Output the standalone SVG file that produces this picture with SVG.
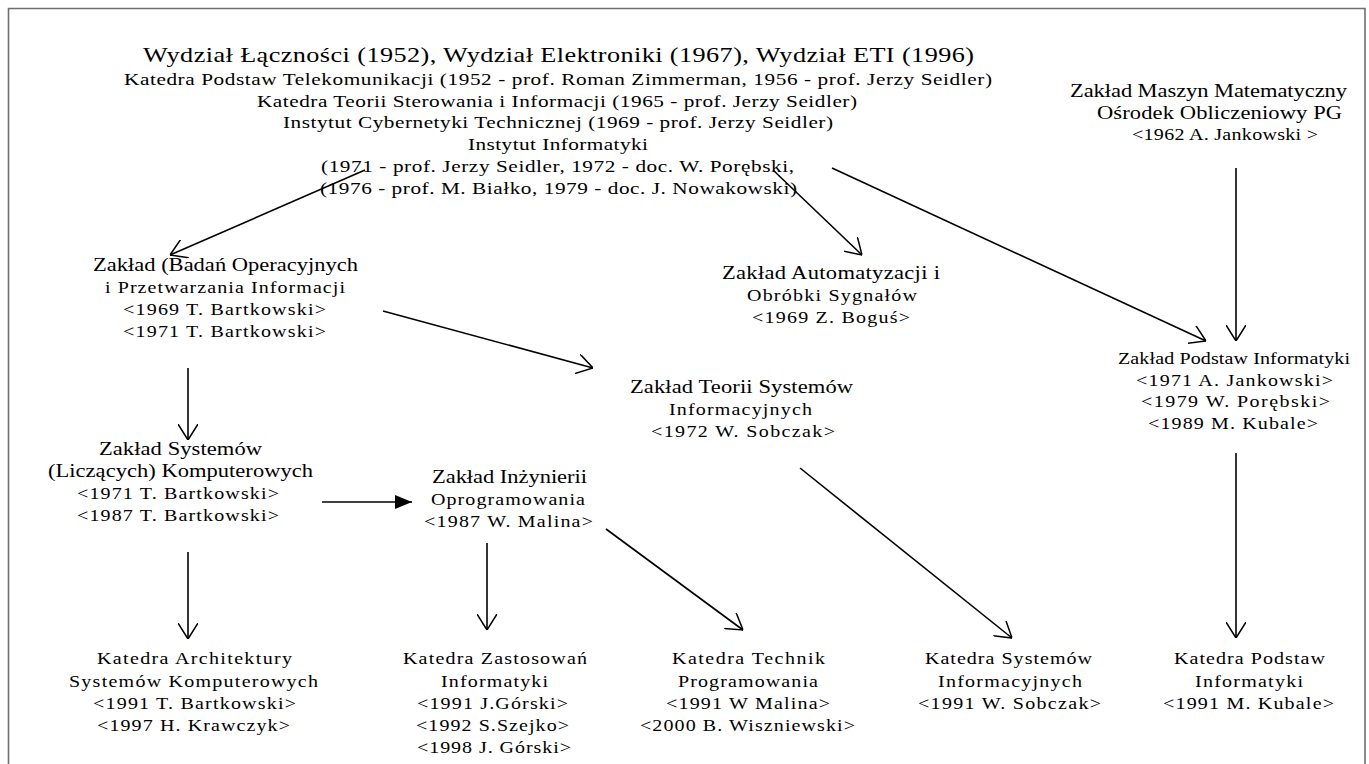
<svg xmlns="http://www.w3.org/2000/svg" width="1369" height="764" viewBox="0 0 1369 764">
<style>
text{font-family:"Liberation Serif","Times New Roman",serif;fill:#000;}
.t{font-size:21px;}
.h{font-size:17px;}
.s{font-size:16px;}
.m{font-size:18px;}
.c{stroke:#000;stroke-width:1.6;fill:none;}
.frame{stroke:#6e6e6e;stroke-width:1.6;fill:none;}
</style>
<defs>
<marker id="open" viewBox="0 0 16 20" refX="16" refY="10" markerWidth="16" markerHeight="20" markerUnits="userSpaceOnUse" orient="auto">
<path d="M0,0 L16,10 L0,20" stroke="#000" stroke-width="1.5" fill="none"/>
</marker>
<marker id="filled" viewBox="0 0 17 14" refX="17" refY="7" markerWidth="17" markerHeight="14" markerUnits="userSpaceOnUse" orient="auto">
<path d="M0,0 L17,7 L0,14 Z" fill="#000"/>
</marker>
</defs>
<rect width="1369" height="764" fill="#fff"/>
<path class="frame" d="M8.5,764 V8.5 H1365 V764"/>

<g id="n-wydzial" transform="scale(1.25,1)">
<text class="t" x="114.4" y="62" textLength="664.8" lengthAdjust="spacing">Wydział Łączności (1952), Wydział Elektroniki (1967), Wydział ETI (1996)</text>
<text class="h" x="99.2" y="85" textLength="694.4" lengthAdjust="spacing">Katedra Podstaw Telekomunikacji (1952 - prof. Roman Zimmerman, 1956 - prof. Jerzy Seidler)</text>
<text class="h" x="205.6" y="107" textLength="480" lengthAdjust="spacing">Katedra Teorii Sterowania i Informacji (1965 - prof. Jerzy Seidler)</text>
<text class="h" x="226.4" y="128" textLength="440" lengthAdjust="spacing">Instytut Cybernetyki Technicznej (1969 - prof. Jerzy Seidler)</text>
<text class="h" x="374.4" y="150" textLength="144" lengthAdjust="spacing">Instytut Informatyki</text>
<text class="h" x="256.8" y="172" textLength="378.4" lengthAdjust="spacing">(1971 - prof. Jerzy Seidler, 1972 - doc. W. Porębski,</text>
<text class="h" x="256" y="194" textLength="381.6" lengthAdjust="spacing">(1976 - prof. M. Białko, 1979 - doc. J. Nowakowski)</text>
</g>

<g id="n-maszyn" transform="scale(1.25,1)">
<text class="m" x="856" y="97" textLength="221.6" lengthAdjust="spacing">Zakład Maszyn Matematyczny</text>
<text class="m" x="877.6" y="119" textLength="196" lengthAdjust="spacing">Ośrodek Obliczeniowy PG</text>
<text class="s" x="905.6" y="140" textLength="148.8" lengthAdjust="spacing">&lt;1962 A. Jankowski &gt;</text>
</g>

<g id="n-badan" transform="scale(1.25,1)">
<text class="m" x="74.4" y="271" textLength="212" lengthAdjust="spacing">Zakład (Badań Operacyjnych</text>
<text class="s" x="84" y="293" textLength="192" lengthAdjust="spacing">i Przetwarzania Informacji</text>
<text class="s" x="98.4" y="315" textLength="162.4" lengthAdjust="spacing">&lt;1969 T. Bartkowski&gt;</text>
<text class="s" x="98.4" y="337" textLength="162.4" lengthAdjust="spacing">&lt;1971 T. Bartkowski&gt;</text>
</g>

<g id="n-automatyzacji" transform="scale(1.25,1)">
<text class="m" x="577.6" y="279" textLength="174.4" lengthAdjust="spacing">Zakład Automatyzacji i</text>
<text class="s" x="597.6" y="301" textLength="136" lengthAdjust="spacing">Obróbki Sygnałów</text>
<text class="s" x="601.6" y="323" textLength="126.4" lengthAdjust="spacing">&lt;1969 Z. Boguś&gt;</text>
</g>

<g id="n-podstaw-zaklad" transform="scale(1.25,1)">
<text class="s" x="894.4" y="364" textLength="185.6" lengthAdjust="spacing">Zakład Podstaw Informatyki</text>
<text class="s" x="908.8" y="386" textLength="157.6" lengthAdjust="spacing">&lt;1971 A. Jankowski&gt;</text>
<text class="s" x="912.8" y="407" textLength="151.2" lengthAdjust="spacing">&lt;1979 W. Porębski&gt;</text>
<text class="s" x="918.4" y="429" textLength="136" lengthAdjust="spacing">&lt;1989 M. Kubale&gt;</text>
</g>

<g id="n-teorii" transform="scale(1.25,1)">
<text class="m" x="504" y="393" textLength="178.4" lengthAdjust="spacing">Zakład Teorii Systemów</text>
<text class="s" x="535.2" y="415" textLength="114.4" lengthAdjust="spacing">Informacyjnych</text>
<text class="s" x="520.8" y="437" textLength="147.2" lengthAdjust="spacing">&lt;1972 W. Sobczak&gt;</text>
</g>

<g id="n-systemow" transform="scale(1.25,1)">
<text class="m" x="79.2" y="455" textLength="130.4" lengthAdjust="spacing">Zakład Systemów</text>
<text class="m" x="38.4" y="477" textLength="212" lengthAdjust="spacing">(Liczących) Komputerowych</text>
<text class="s" x="61.6" y="499" textLength="161.6" lengthAdjust="spacing">&lt;1971 T. Bartkowski&gt;</text>
<text class="s" x="61.6" y="521" textLength="161.6" lengthAdjust="spacing">&lt;1987 T. Bartkowski&gt;</text>
</g>

<g id="n-inzynierii" transform="scale(1.25,1)">
<text class="m" x="345.6" y="483" textLength="124" lengthAdjust="spacing">Zakład Inżynierii</text>
<text class="s" x="344.8" y="505" textLength="123.2" lengthAdjust="spacing">Oprogramowania</text>
<text class="s" x="339.2" y="527" textLength="135.2" lengthAdjust="spacing">&lt;1987 W. Malina&gt;</text>
</g>

<g id="n-architektury" transform="scale(1.25,1)">
<text class="s" x="77.6" y="664" textLength="156" lengthAdjust="spacing">Katedra Architektury</text>
<text class="s" x="55.2" y="687" textLength="199.2" lengthAdjust="spacing">Systemów Komputerowych</text>
<text class="s" x="74.4" y="709" textLength="162.4" lengthAdjust="spacing">&lt;1991 T. Bartkowski&gt;</text>
<text class="s" x="77.6" y="731" textLength="154.4" lengthAdjust="spacing">&lt;1997 H. Krawczyk&gt;</text>
</g>

<g id="n-zastosowan" transform="scale(1.25,1)">
<text class="s" x="322.4" y="664" textLength="147.2" lengthAdjust="spacing">Katedra Zastosowań</text>
<text class="s" x="352.8" y="687" textLength="85.6" lengthAdjust="spacing">Informatyki</text>
<text class="s" x="333.6" y="709" textLength="120.8" lengthAdjust="spacing">&lt;1991 J.Górski&gt;</text>
<text class="s" x="332.8" y="731" textLength="122.4" lengthAdjust="spacing">&lt;1992 S.Szejko&gt;</text>
<text class="s" x="333.6" y="753" textLength="123.2" lengthAdjust="spacing">&lt;1998 J. Górski&gt;</text>
</g>

<g id="n-technik" transform="scale(1.25,1)">
<text class="s" x="537.6" y="664" textLength="122.4" lengthAdjust="spacing">Katedra Technik</text>
<text class="s" x="542.4" y="687" textLength="112" lengthAdjust="spacing">Programowania</text>
<text class="s" x="532.8" y="709" textLength="131.2" lengthAdjust="spacing">&lt;1991 W Malina&gt;</text>
<text class="s" x="512" y="731" textLength="172" lengthAdjust="spacing">&lt;2000 B. Wiszniewski&gt;</text>
</g>

<g id="n-systemow-inf" transform="scale(1.25,1)">
<text class="s" x="740" y="664" textLength="133.6" lengthAdjust="spacing">Katedra Systemów</text>
<text class="s" x="750.4" y="687" textLength="115.2" lengthAdjust="spacing">Informacyjnych</text>
<text class="s" x="734.4" y="709" textLength="146.4" lengthAdjust="spacing">&lt;1991 W. Sobczak&gt;</text>
</g>

<g id="n-podstaw-katedra" transform="scale(1.25,1)">
<text class="s" x="939.2" y="664" textLength="120.8" lengthAdjust="spacing">Katedra Podstaw</text>
<text class="s" x="956" y="687" textLength="86.4" lengthAdjust="spacing">Informatyki</text>
<text class="s" x="930.4" y="709" textLength="136.8" lengthAdjust="spacing">&lt;1991 M. Kubale&gt;</text>
</g>

<g id="connectors">
<line class="c" x1="365" y1="170" x2="170" y2="255" marker-end="url(#open)"/>
<line class="c" x1="773" y1="170" x2="862" y2="255" marker-end="url(#open)"/>
<line class="c" x1="832" y1="168" x2="1206" y2="341" marker-end="url(#open)"/>
<line class="c" x1="1236" y1="168" x2="1236" y2="341" marker-end="url(#open)"/>
<line class="c" x1="383" y1="311" x2="593" y2="368" marker-end="url(#open)"/>
<line class="c" x1="188" y1="368" x2="188" y2="440" marker-end="url(#open)"/>
<line class="c" x1="322" y1="502" x2="412" y2="502" marker-end="url(#filled)"/>
<line class="c" x1="188" y1="552" x2="188" y2="639" marker-end="url(#open)"/>
<line class="c" x1="487" y1="543" x2="487" y2="630" marker-end="url(#open)"/>
<line class="c" x1="606" y1="529" x2="743" y2="630" marker-end="url(#open)"/>
<line class="c" x1="800" y1="468" x2="1012" y2="638" marker-end="url(#open)"/>
<line class="c" x1="1236" y1="453" x2="1236" y2="638" marker-end="url(#open)"/>
</g>
</svg>
